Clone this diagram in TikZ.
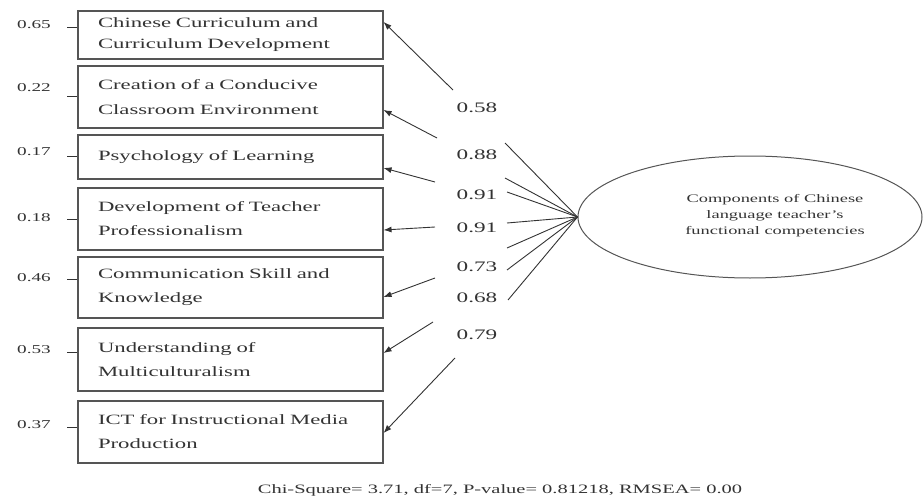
\documentclass[tikz,border=0pt]{standalone}
\usepackage{fontspec}
\setmainfont{Liberation Serif}[FakeStretch=1.6]
\usetikzlibrary{arrows.meta,shapes.geometric}
\definecolor{ink}{HTML}{333333}
\definecolor{edge}{HTML}{555555}
\tikzset{
  itembox/.style={draw=edge, line width=1.1pt, text=ink, inner xsep=20pt, inner ysep=0pt,
    text width=265pt, align=left, font=\fontsize{14.2}{21}\selectfont, anchor=center},
  errlab/.style={text=ink, font=\fontsize{12}{12}\selectfont, anchor=east, inner sep=0pt},
  loadlab/.style={text=ink, font=\fontsize{14.5}{14}\selectfont, inner sep=0pt},
  latent/.style={ellipse, draw=edge, line width=1pt, minimum width=344pt, minimum height=122pt, inner sep=0pt},
  conn/.style={draw=ink, line width=0.9pt},
  arr/.style={conn, -{Latex[length=8pt,width=6pt]}},
}
\begin{document}
\begin{tikzpicture}[x=1pt,y=-1pt]
\useasboundingbox (0,0) rectangle (924,503);
% boxes
\node[itembox, minimum height=48pt] (b1) at (230.5,35) {Chinese Curriculum and\\Curriculum Development};
\node[itembox, minimum height=62pt, font=\fontsize{14.2}{25}\selectfont] (b2) at (230.5,97) {Creation of a Conducive\\Classroom Environment};
\node[itembox, minimum height=44pt] (b3) at (230.5,157) {Psychology of Learning};
\node[itembox, minimum height=62pt, font=\fontsize{14.2}{24}\selectfont] (b4) at (230.5,219) {Development of Teacher\\Professionalism};
\node[itembox, minimum height=61pt, font=\fontsize{14.2}{24}\selectfont] (b5) at (230.5,287.5) {Communication Skill and\\Knowledge};
\node[itembox, minimum height=63pt, font=\fontsize{14.2}{24}\selectfont] (b6) at (230.5,359.5) {Understanding of\\Multiculturalism};
\node[itembox, minimum height=62pt, font=\fontsize{14.2}{24}\selectfont] (b7) at (230.5,432) {ICT for Instructional Media\\Production};
% error labels
\node[errlab] (e1) at (51,25) {0.65};
\node[errlab] (e2) at (51,88) {0.22};
\node[errlab] (e3) at (51,152) {0.17};
\node[errlab] (e4) at (51,218) {0.18};
\node[errlab] (e5) at (51,278) {0.46};
\node[errlab] (e6) at (51,350) {0.53};
\node[errlab] (e7) at (51,425) {0.37};
\coordinate (d1) at (67,27);
\coordinate (d2) at (67,96);
\coordinate (d3) at (67,156);
\coordinate (d4) at (67,219);
\coordinate (d5) at (67,279);
\coordinate (d6) at (67,352);
\coordinate (d7) at (67,427);
\foreach \i in {1,...,7} { \draw[conn] (d\i) -- (d\i -| b\i.west); }
% latent
\node[latent] (lat) at (750,217) {};
\node[text=ink, font=\fontsize{11.5}{16}\selectfont, align=center] (lattext) at (775,216) {Components of Chinese\\language teacher's\\functional competencies};
% loading labels
\node[loadlab] (l1) at (477,108) {0.58};
\node[loadlab] (l2) at (477,155) {0.88};
\node[loadlab] (l3) at (477,195) {0.91};
\node[loadlab] (l4) at (477,228) {0.91};
\node[loadlab] (l5) at (477,267) {0.73};
\node[loadlab] (l6) at (477,298) {0.68};
\node[loadlab] (l7) at (477,335) {0.79};
% fan ends near latent
\coordinate (f1) at (505,143);
\coordinate (f2) at (505,178);
\coordinate (f3) at (507,192);
\coordinate (f4) at (507,223);
\coordinate (f5) at (507,248);
\coordinate (f6) at (507,270);
\coordinate (f7) at (508,300);
\foreach \i in {1,...,7} { \draw[conn] (lat.west) -- (f\i); }
% arrow starts near boxes
\coordinate (s1) at (453,90);
\coordinate (s2) at (437,138);
\coordinate (s3) at (435,182);
\coordinate (s4) at (435,227);
\coordinate (s5) at (435,278);
\coordinate (s6) at (433,322);
\coordinate (s7) at (455,358);
\draw[arr] (s1) -- ([yshift=13pt]b1.east);
\draw[arr] (s2) -- ([yshift=-13pt]b2.east);
\draw[arr] (s3) -- ([yshift=-11pt]b3.east);
\draw[arr] (s4) -- ([yshift=-11pt]b4.east);
\draw[arr] (s5) -- ([yshift=-9.5pt]b5.east);
\draw[arr] (s6) -- ([yshift=6.5pt]b6.east);
\draw[arr] (s7) -- ([yshift=-1pt]b7.east);
% fit statistics
\node[text=ink, font=\fontsize{12.8}{12}\selectfont] (fit) at (500,490) {Chi-Square= 3.71, df=7, P-value= 0.81218, RMSEA= 0.00};
\end{tikzpicture}
\end{document}
